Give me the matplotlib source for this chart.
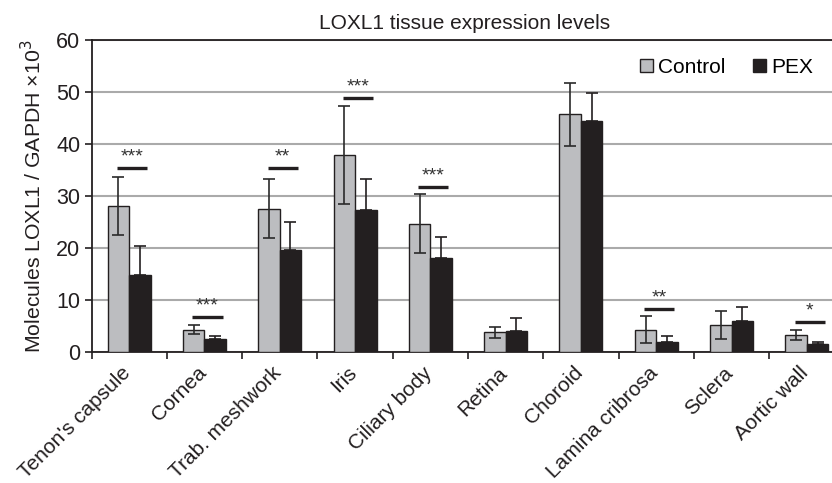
import matplotlib
matplotlib.use("Agg")
import matplotlib.pyplot as plt
import matplotlib.transforms as mtransforms
import numpy as np

plt.rcParams['font.family'] = ['Liberation Sans', 'DejaVu Sans']

categories = ["Tenon's capsule", "Cornea", "Trab. meshwork", "Iris", "Ciliary body",
              "Retina", "Choroid", "Lamina cribrosa", "Sclera", "Aortic wall"]
control = [28.1, 4.3, 27.6, 37.9, 24.7, 3.8, 45.7, 4.3, 5.25, 3.3]
control_err = [5.6, 0.9, 5.7, 9.4, 5.7, 1.1, 6.1, 2.6, 2.7, 0.9]
pex = [14.9, 2.5, 19.7, 27.3, 18.1, 4.0, 44.4, 1.9, 6.0, 1.5]
pex_err = [5.4, 0.6, 5.3, 6.0, 4.1, 2.5, 5.5, 1.1, 2.6, 0.5]

# significance annotations: (category index, line height, label)
sig_idx = [0, 1, 2, 3, 4, 7, 9]
sig_y = [35.4, 6.8, 35.3, 48.9, 31.8, 8.3, 5.8]
sig_lab = ["***", "***", "**", "***", "***", "**", "*"]

gray = "#bcbdc0"
black = "#231f20"

fig = plt.figure(figsize=(8.32, 4.83), dpi=100)
ax = fig.add_axes([0.110, 0.2712, 1.015 - 0.110, 0.917 - 0.2712])

x = np.arange(len(categories))
w = 0.285
ekw = dict(ecolor="#2a2a2a", elinewidth=1.2, capsize=4, capthick=1.2)
ax.bar(x - w / 2, control, w, color=gray, edgecolor=black, linewidth=1.0,
       yerr=control_err, error_kw=ekw, label="Control", zorder=3)
pex_yerr = [np.zeros(len(pex_err)), pex_err]  # lower half hidden inside the black bar
ax.bar(x + w / 2, pex, w, color=black, edgecolor=black, linewidth=1.0,
       yerr=pex_yerr, error_kw=dict(ekw, ecolor=black), label="PEX", zorder=3)

for i, yv, lab in zip(sig_idx, sig_y, sig_lab):
    ax.plot([i + 0.04 - 0.2, i + 0.04 + 0.2], [yv, yv], color=black, lw=2.4,
            solid_capstyle='butt', zorder=4)
    ax.text(i + 0.04, yv + 0.5, lab, ha='center', va='bottom', fontsize=14,
            color="#333333", zorder=4)

ax.set_xlim(-0.5, len(categories) - 0.5)
ax.set_ylim(0, 60)
ax.set_yticks(np.arange(0, 61, 10))
ax.yaxis.grid(True, color="#aaaaaa", linewidth=1.5, zorder=0)
ax.set_axisbelow(True)

ax.set_xticks(np.arange(-0.5, len(categories) + 0.5, 1), minor=True)
ax.tick_params(axis='x', which='minor', length=5, width=1.2, direction='out', color=black)
ax.tick_params(axis='y', length=5, width=1.2, direction='out', labelsize=15.5,
               color=black, labelcolor="#231f20", pad=3)
ax.tick_params(axis='x', which='major', length=0, pad=8)
ax.set_xticks(x)
ax.set_xticklabels(categories, rotation=45, ha='right', rotation_mode='anchor',
                   fontsize=15, color="#231f20")
offset = mtransforms.ScaledTranslation(-0.08, 0, fig.dpi_scale_trans)
for lbl in ax.get_xticklabels():
    lbl.set_transform(lbl.get_transform() + offset)

for s in ['left', 'bottom', 'top', 'right']:
    ax.spines[s].set_linewidth(1.3)
    ax.spines[s].set_color(black)

ax.set_ylabel("Molecules LOXL1 / GAPDH \u00d710$^3$", fontsize=15.3, color="#231f20", labelpad=8)
ax.set_title("LOXL1 tissue expression levels", fontsize=15, color="#231f20", pad=8, x=0.496)

ax.legend(loc='upper right', bbox_to_anchor=(0.97, 0.97), frameon=False, fontsize=15,
          ncol=2, handlelength=0.65, handleheight=0.65, handletextpad=0.25,
          columnspacing=1.3, borderaxespad=0)

fig.savefig("out.png", dpi=100)
